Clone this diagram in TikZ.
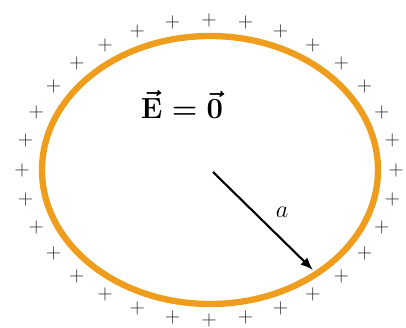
\documentclass[tikz,border=0pt]{standalone}
\usepackage{amsmath}
\usepackage{tikz}
\usetikzlibrary{arrows.meta}
\usepackage{xcolor}
\definecolor{shellorange}{HTML}{EE9E1C}
\definecolor{chargegray}{HTML}{2A2A2A}

\begin{document}
\begin{tikzpicture}[>=Latex,
  charge/.style={inner sep=0pt,text=chargegray,font=\fontsize{15}{15}\selectfont},
  biglabel/.style={inner sep=0pt,font=\fontsize{19}{22}\selectfont}]
\useasboundingbox (0,0) rectangle (10.15,8.2);
% Charged conducting shell, no field inside.
\draw[shellorange,line width=4.5pt] (5.25,3.95) ellipse[x radius=4.2,y radius=3.35];
% Surface charges sit just outside the shell.
\begin{scope}[shift={(5.225,3.95)}]
  \foreach \k in {0,...,31}
    \node[charge] (p\k) at (\k*11.25:4.675 and 3.75) {$+$};
\end{scope}
\node[biglabel,font=\fontsize{20}{22}\selectfont\boldmath] (field) at (4.55,5.6) {$\vec{\mathbf{E}}=\vec{\mathbf{0}}$};
\coordinate (centre) at (5.325,3.9);
\coordinate (rim) at (7.825,1.45);
\draw[->,line width=1.5pt,>={Latex[length=9pt,width=7pt]}] (centre) -- (rim);
\node[biglabel] (radius) at (7.05,2.9) {$a$};
\end{tikzpicture}
\end{document}
